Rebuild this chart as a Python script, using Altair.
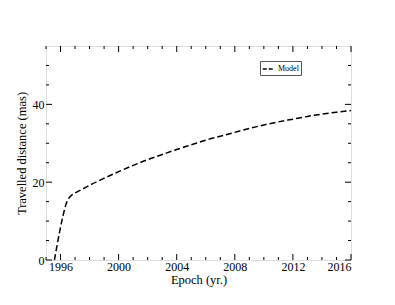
import altair as alt
import pandas as pd

# Model curve
years = [1995.58, 1995.75, 1995.95, 1996.15, 1996.35, 1996.55, 1996.75, 1997.0,
         1997.5, 1998.0, 1999.0, 2000.0, 2001.0, 2002.0, 2003.0, 2004.0,
         2005.0, 2006.0, 2007.0, 2008.0, 2009.0, 2010.0, 2011.0, 2012.0,
         2013.0, 2014.0, 2015.0, 2016.0]
distance = [0.0, 3.5, 7.5, 11.0, 14.0, 15.8, 16.6, 17.2,
            18.2, 19.2, 21.0, 22.7, 24.3, 25.8, 27.1, 28.4,
            29.6, 30.8, 31.8, 32.8, 33.8, 34.7, 35.5, 36.2,
            36.9, 37.5, 38.0, 38.4]
series = ["Model"] * len(years)

x_major = [1996, 2000, 2004, 2008, 2012, 2016]
x_minor = [1995, 1997, 1998, 1999, 2001, 2002, 2003, 2005, 2006, 2007,
           2009, 2010, 2011, 2013, 2014, 2015]
y_major = [0, 20, 40]
y_minor = [5, 10, 15, 25, 30, 35, 45, 50]

W, H = 305, 214
FONT = "Liberation Serif"

df = pd.DataFrame({"year": years, "dist": distance, "series": series})
xs = alt.Scale(domain=[1995, 2016], nice=False, zero=False)
ys = alt.Scale(domain=[0, 55], nice=False, zero=False)

x_axis = alt.Axis(values=x_major, format="d", ticks=False, domain=False, grid=False,
                  labelFont=FONT, labelFontSize=12, labelColor="black", labelPadding=1,
                  title="Epoch (yr.)", titleFont=FONT, titleFontSize=12.5,
                  titleFontWeight="normal", titleColor="black", titlePadding=1)
y_axis = alt.Axis(values=y_major, ticks=False, domain=False, grid=False,
                  labelFont=FONT, labelFontSize=12, labelColor="black", labelPadding=2,
                  title="Travelled distance (mas)", titleFont=FONT, titleFontSize=12.5,
                  titleFontWeight="normal", titleColor="black", titlePadding=4)

line = alt.Chart(df).mark_line(strokeWidth=1.5, strokeDash=[6, 3], interpolate="monotone").encode(
    x=alt.X("year:Q", scale=xs, axis=x_axis),
    y=alt.Y("dist:Q", scale=ys, axis=y_axis),
    color=alt.Color("series:N", scale=alt.Scale(range=["black"]),
                    legend=alt.Legend(title=None, orient="none", legendX=214, legendY=15,
                                      strokeColor="#555", padding=2,
                                      labelFont=FONT, labelFontSize=8, labelColor="black",
                                      symbolType="stroke", symbolSize=110,
                                      symbolDash=[4, 2],
                                      symbolStrokeWidth=1.5)),
)


def xticks(vals, length):
    d = pd.DataFrame({"v": vals})
    base = alt.Chart(d).mark_rule(color="black", strokeWidth=1)
    b = base.encode(x=alt.X("v:Q", scale=xs, axis=x_axis), y=alt.value(H), y2=alt.value(H - length))
    t = base.encode(x=alt.X("v:Q", scale=xs, axis=x_axis), y=alt.value(0), y2=alt.value(length))
    return [b, t]


def yticks(vals, length):
    d = pd.DataFrame({"v": vals})
    base = alt.Chart(d).mark_rule(color="black", strokeWidth=1)
    l = base.encode(y=alt.Y("v:Q", scale=ys, axis=y_axis), x=alt.value(0), x2=alt.value(length))
    r = base.encode(y=alt.Y("v:Q", scale=ys, axis=y_axis), x=alt.value(W), x2=alt.value(W - length))
    return [l, r]


layers = [line] + xticks(x_major, 6) + xticks(x_minor, 3) + yticks(y_major, 6) + yticks(y_minor, 3)

chart = alt.layer(*layers).properties(
    width=W, height=H,
    autosize=alt.AutoSizeParams(type="none"),
    padding={"left": 38, "top": 38, "right": 36, "bottom": 30},
).configure_view(stroke="black", strokeWidth=1).configure(background="white")

chart.save("out.html", embed_options={"renderer": "svg", "actions": False})
